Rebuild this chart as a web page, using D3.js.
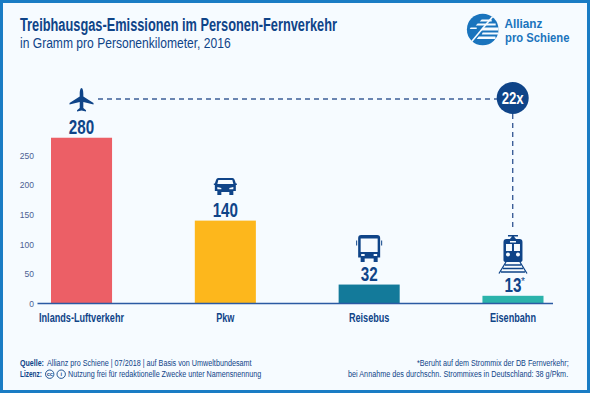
<!DOCTYPE html>
<html>
<head>
<meta charset="utf-8">
<script src="https://cdn.jsdelivr.net/npm/d3@7"></script>
<style>
  html, body { margin: 0; padding: 0; background: #f6fbff; }
  text { font-family: "Liberation Sans", sans-serif; }
</style>
</head>
<body>
<div id="container"></div>
<script>
/* DATA */
const categories = ["Inlands-Luftverkehr", "Pkw", "Reisebus", "Eisenbahn"]
const values = [280, 140, 32, 13]
const valueLabels = ["280", "140", "32", "13"]
const barColors = ["#ec5f66", "#fdb71c", "#137a9a", "#2bb3ab"]
const yTicks = [0, 50, 100, 150, 200, 250]

/* CONSTANTS AND GLOBALS */
const width = 590, height = 393
const navy = "#0f4488", logoBlue = "#1a74bd", grey = "#4c5f93"
const squeeze = 0.76 // the picture uses a condensed face, none is installed

// put a text on the page and squeeze it to the width it has in the picture
const label = (parent, x, y, str, size, w, opts = {}) => {
  const t = parent.append("text")
    .attr("font-size", size)
    .attr("font-weight", opts.weight || "normal")
    .attr("fill", opts.fill || navy)
    .text(str)
  const natural = t.node().getComputedTextLength()
  t.attr("transform", `translate(${x},${y}) scale(${w / natural},1)`)
  return t
}

const svg = d3.select("#container").append("svg")
  .attr("width", width)
  .attr("height", height)
  .style("display", "block")

// frame
svg.append("rect")
  .attr("x", 1.5).attr("y", 1.5)
  .attr("width", width - 3).attr("height", height - 3)
  .attr("fill", "#f6fbff")
  .attr("stroke", "#1a7cc4")
  .attr("stroke-width", 3)

// + SCALES
const xScale = d3.scaleBand()
  .domain(categories)
  .range([51, 543.5])
  .paddingInner(0.5755)
  .paddingOuter(0)

const yScale = d3.scaleLinear()
  .domain([0, 250])
  .range([303.5, 155.5])

const cx = d => xScale(d) + xScale.bandwidth() / 2

// HEADER
label(svg, 20, 30.5, "Treibhausgas-Emissionen im Personen-Fernverkehr", 18, 317, { weight: "bold" })
label(svg, 20, 48, "in Gramm pro Personenkilometer, 2016", 14.5, 211)

// LOGO
const logo = svg.append("g").attr("transform", "translate(482.7,29.5)")
logo.append("circle").attr("r", 15.8).attr("fill", logoBlue)
logo.append("path")
  .attr("d", "M-1,-10H9V-8H-3ZM-5,-6H13V-4H-7ZM0,-2H15.8V1H-2.5ZM-12,-2H-6V-0.4H-13ZM0,3H15.4V5H-1ZM-4,7H12.8V9.4H-6Z")
  .attr("fill", "#f6fbff")
logo.append("path")
  .attr("d", "M-11,12L10,-13")
  .attr("stroke", "#f6fbff")
  .attr("stroke-width", 1.6)
label(svg, 504.5, 27.5, "Allianz", 13.5, 38, { weight: "bold", fill: logoBlue })
label(svg, 505, 42, "pro Schiene", 13.5, 64.5, { weight: "bold", fill: logoBlue })

// BUILD AND CALL AXES
const yAxis = d3.axisLeft(yScale)
  .tickValues(yTicks)
  .tickSize(0)
  .tickPadding(0)

const yAxisGroup = svg.append("g")
  .attr("class", "yAxis")
  .attr("transform", "translate(34,0)")
  .call(yAxis)

yAxisGroup.select(".domain").remove()
yAxisGroup.selectAll("text")
  .attr("font-size", 8.5)
  .attr("fill", grey)

// DRAW BARS
svg.selectAll(".bar")
  .data(categories)
  .join("rect")
  .attr("class", "bar")
  .attr("x", d => xScale(d))
  .attr("width", xScale.bandwidth())
  .attr("y", (d, i) => yScale(values[i]))
  .attr("height", (d, i) => yScale(0) - yScale(values[i]))
  .attr("fill", (d, i) => barColors[i])

// baseline
svg.append("line")
  .attr("x1", 37.5).attr("x2", 553)
  .attr("y1", yScale(0)).attr("y2", yScale(0))
  .attr("stroke", "#2b5aa3")
  .attr("stroke-width", 1.4)

// VALUE LABELS
svg.selectAll(".value")
  .data(categories)
  .join("text")
  .attr("class", "value")
  .attr("transform", (d, i) => `translate(${cx(d)},${yScale(values[i]) - 3.5}) scale(${squeeze},1)`)
  .attr("text-anchor", "middle")
  .attr("font-size", 20)
  .attr("font-weight", "bold")
  .attr("fill", navy)
  .text((d, i) => valueLabels[i])

svg.append("text")
  .attr("x", cx("Eisenbahn") + 8)
  .attr("y", yScale(13) - 10.5)
  .attr("font-size", 10)
  .attr("fill", navy)
  .text("*")

// CATEGORY LABELS
svg.selectAll(".cat")
  .data(categories)
  .join("text")
  .attr("class", "cat")
  .attr("transform", d => `translate(${cx(d)},321.5) scale(${squeeze},1)`)
  .attr("text-anchor", "middle")
  .attr("font-size", 12)
  .attr("font-weight", "bold")
  .attr("fill", navy)
  .text(d => d)

// COMPARISON LINES
const dashes = svg.append("g")
  .attr("stroke", "#3d5f98")
  .attr("stroke-width", 1.4)
  .attr("stroke-dasharray", "5 4")
dashes.append("line").attr("x1", 98).attr("x2", 497).attr("y1", 99).attr("y2", 99)
dashes.append("line").attr("x1", 512.7).attr("x2", 512.7).attr("y1", 114).attr("y2", 230)

svg.append("circle").attr("cx", 512.7).attr("cy", 98).attr("r", 16).attr("fill", navy)
svg.append("text")
  .attr("transform", "translate(512.7,103.5) scale(0.8,1)")
  .attr("text-anchor", "middle")
  .attr("font-size", 16.5)
  .attr("font-weight", "bold")
  .attr("fill", "#fff")
  .text("22x")

// ICONS
const icon = (d, y) => svg.append("g").attr("transform", `translate(${cx(d)},${y})`).attr("fill", navy)

// plane
icon("Inlands-Luftverkehr", 100).append("path")
  .attr("d", "M0,-12C1.2,-12 1.8,-9 1.8,-6V-3.5L12,3V4.6L1.8,2V8L4.5,10.3V11.6L0,10.6L-4.5,11.6V10.3L-1.8,8V2L-12,4.6V3L-1.8,-3.5V-6C-1.8,-9 -1.2,-12 0,-12Z")

// car
const car = icon("Pkw", 186.5)
car.append("path")
  .attr("d", "M-7,-8.5H7C8.5,-8.5 9,-7.5 9.5,-6L10.5,-3H11.5V-1.5H10.5V4.5H8V8.5H4V5.5H-4V8.5H-8V4.5H-10.5V-1.5H-11.5V-3H-10.5L-9.5,-6C-9,-7.5 -8.5,-8.5 -7,-8.5Z")
car.append("path")
  .attr("d", "M-7,-6.5H7L8,-2.5H-8ZM-8,0.5L-4,1.5V2.8H-8ZM8,0.5L4,1.5V2.8H8Z")
  .attr("fill", "#f6fbff")

// bus
const bus = icon("Reisebus", 248.5)
bus.append("path")
  .attr("d", "M-8,-13.5H8C10,-13.5 11,-12.5 11,-10.5V9H8.5V13.5H4.5V10H-4.5V13.5H-8.5V9H-11V-10.5C-11,-12.5 -10,-13.5 -8,-13.5Z")
bus.append("path")
  .attr("d", "M-8.5,-10H8.5V3.5H-8.5ZM-8,5.5H-4.5V7.5H-8ZM8,5.5H4.5V7.5H8Z")
  .attr("fill", "#f6fbff")
bus.append("path").attr("d", "M-13,-8H-12V-3H-13ZM12,-8H13V-3H12Z")

// train
const train = icon("Eisenbahn", 254)
train.append("path")
  .attr("d", "M-5,-19H5V-17.5H1L3,-15H6.5C8.5,-15 9.5,-14 9.5,-12V6C9.5,7.5 8.5,8 7,8H-7C-8.5,8 -9.5,7.5 -9.5,6V-12C-9.5,-14 -8.5,-15 -6.5,-15H-3L-1,-17.5H-5Z")
train.append("path")
  .attr("d", "M-7,-10H-1V-3H-7ZM1,-10H7V-3H1ZM-3,-13H3V-11.5H-3ZM-7,0.5a2,2 0 1,0 4,0a2,2 0 1,0 -4,0ZM3,0.5a2,2 0 1,0 4,0a2,2 0 1,0 -4,0Z")
  .attr("fill", "#f6fbff")
train.append("path")
  .attr("d", "M-7,8L-14,19.5M7,8L14,19.5M-8,11H8M-10,14.5H10M-12,18H12")
  .attr("stroke", navy)
  .attr("stroke-width", 1.3)
  .attr("fill", "none")

// FOOTER
label(svg, 20, 366, "Quelle:", 9.5, 24, { weight: "bold" })
label(svg, 47, 366, "Allianz pro Schiene | 07/2018 | auf Basis von Umweltbundesamt", 9.5, 205)
label(svg, 20, 377, "Lizenz:", 9.5, 22, { weight: "bold" })
svg.selectAll(".cc")
  .data(["cc", "i"])
  .join("g")
  .attr("class", "cc")
  .attr("transform", (d, i) => `translate(${49.7 + i * 11.5},374.2)`)
  .each(function (d) {
    const g = d3.select(this)
    g.append("circle").attr("r", 4.2).attr("fill", "none").attr("stroke", navy).attr("stroke-width", 0.9)
    g.append("text")
      .attr("y", 2.2)
      .attr("text-anchor", "middle")
      .attr("font-size", 5.5)
      .attr("font-weight", "bold")
      .attr("fill", navy)
      .text(d)
  })
label(svg, 68, 377, "Nutzung frei für redaktionelle Zwecke unter Namensnennung", 9.5, 193.5)

label(svg, 417, 366, "*Beruht auf dem Strommix der DB Fernverkehr;", 9.5, 152)
label(svg, 348, 377, "bei Annahme des durchschn. Strommixes in Deutschland: 38 g/Pkm.", 9.5, 220.5)
</script>
</body>
</html>
